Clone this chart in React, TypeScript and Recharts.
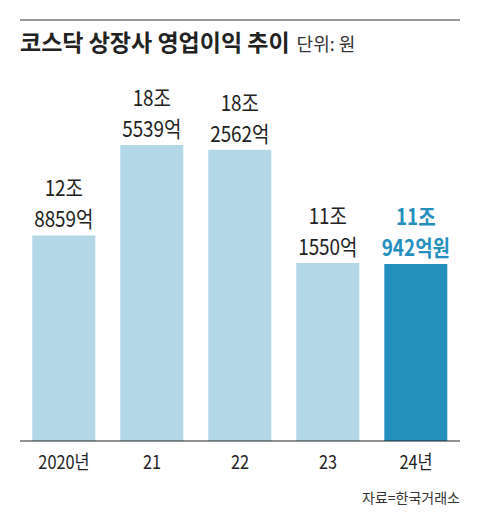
import { Bar, BarChart, Cell, LabelList, XAxis, YAxis } from "recharts";

const years = ["2020년", "21", "22", "23", "24년"];
// 영업이익, 억원 단위
const profits = [128859, 185539, 182562, 111550, 110942];

const LIGHT = "#b2d8e8";
const DARK = "#238fbd";
const KR_FONT = "'Noto Sans CJK KR', sans-serif";

const data = years.map((year, i) => ({ year, value: profits[i] / 10000 }));

// 글자폭이 좁은 원본 서체 느낌을 내려고 가로로 눌러서 그림
function ValueLabel(props: any) {
  const { x, y, width, index } = props;
  const raw = profits[index];
  const last = index === profits.length - 1;
  const jo = Math.floor(raw / 10000);
  const eok = raw % 10000;
  const cx = x + width / 2;
  return (
    <g transform={`translate(${cx} 0) scale(0.86 1)`}>
      <text
        textAnchor="middle"
        fontFamily={KR_FONT}
        fontSize={22}
        fontWeight={last ? 700 : 400}
        fill={last ? DARK : "#222"}
      >
        <tspan x={0} y={y - 39}>{`${jo}조`}</tspan>
        <tspan x={0} y={y - 8}>{`${eok}억${last ? "원" : ""}`}</tspan>
      </text>
    </g>
  );
}

function YearTick(props: any) {
  const { x, payload } = props;
  return (
    <g transform={`translate(${x} 0) scale(0.86 1)`}>
      <text x={0} y={469} textAnchor="middle" fontFamily={KR_FONT} fontSize={19} fill="#222">
        {payload.value}
      </text>
    </g>
  );
}

export default function App() {
  return (
    <div style={{ position: "absolute", left: 0, top: 0, width: 480, height: 530, background: "#fff" }}>
      <BarChart
        width={480}
        height={530}
        data={data}
        margin={{ top: 122, right: 20, bottom: 0, left: 20 }}
        barCategoryGap="14%"
      >
        <XAxis
          dataKey="year"
          height={89}
          axisLine={{ stroke: "#222", strokeWidth: 1.2 }}
          tickLine={false}
          tick={<YearTick />}
          interval={0}
        />
        <YAxis hide domain={[0, 20]} />
        <Bar dataKey="value" isAnimationActive={false}>
          {data.map((d, i) => (
            <Cell key={d.year} fill={i === data.length - 1 ? DARK : LIGHT} />
          ))}
          <LabelList dataKey="value" content={<ValueLabel />} />
        </Bar>
      </BarChart>
      <svg
        width={480}
        height={530}
        style={{ position: "absolute", left: 0, top: 0, pointerEvents: "none" }}
      >
        <rect x={20} y={19} width={440} height={2} fill="#999" />
        <text x={20} y={51} fontFamily={KR_FONT} fontSize={23} fontWeight={700} fill="#222">
          코스닥 상장사 영업이익 추이
          <tspan dx={7} fontSize={18} fontWeight={400} fill="#333">
            단위: 원
          </tspan>
        </text>
        <text x={460} y={503} textAnchor="end" fontFamily={KR_FONT} fontSize={14} fill="#333">
          자료=한국거래소
        </text>
      </svg>
    </div>
  );
}
